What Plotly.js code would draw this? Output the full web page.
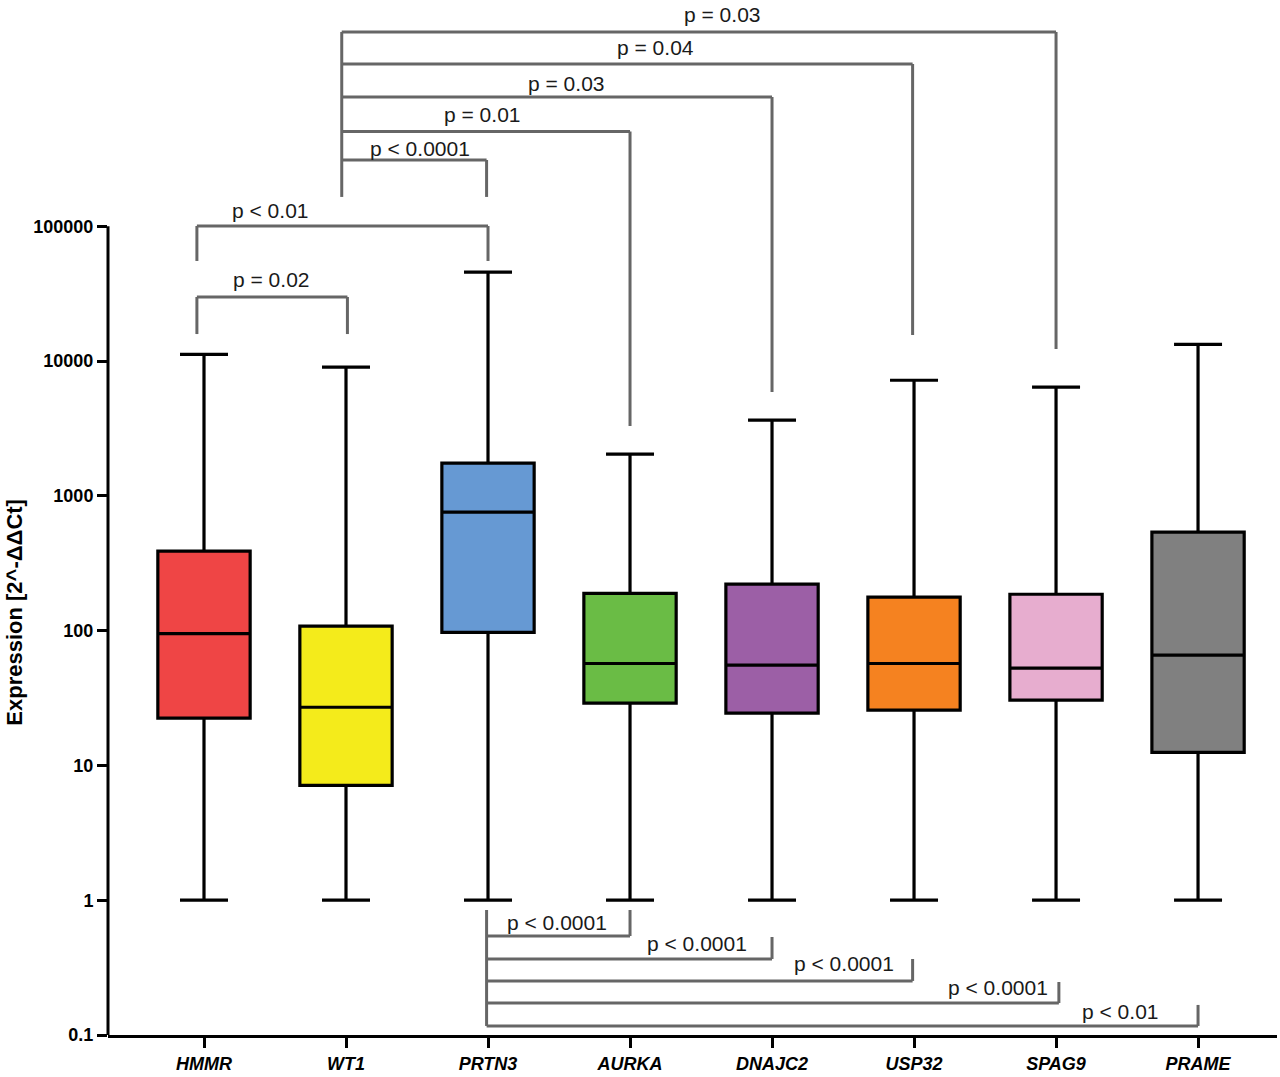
<!DOCTYPE html>
<html>
<head>
<meta charset="utf-8">
<script src="https://cdn.plot.ly/plotly-3.0.1.min.js"></script>
<style>html,body{margin:0;padding:0;background:#fff;}#chart{width:1280px;height:1077px;}</style>
</head>
<body>
<div id="chart"></div>
<script>
// ---- data ----
const genes = ["HMMR", "WT1", "PRTN3", "AURKA", "DNAJC2", "USP32", "SPAG9", "PRAME"];
const lowerWhisker = [1, 1, 1, 1, 1, 1, 1, 1];
const q1Values = [22.4, 7.1, 97, 29, 24.4, 25.7, 30.5, 12.5];
const medianValues = [95, 27, 756, 57, 55.4, 57, 52.6, 65.7];
const q3Values = [388, 108, 1745, 189, 221, 177, 186, 537];
const upperWhisker = [11200, 9000, 45600, 2036, 3640, 7200, 6400, 13300];
const boxColors = ["#EF4545", "#F4EB1B", "#6699D3", "#6ABC45", "#9C5FA6", "#F58220", "#E7ADCF", "#808080"];
const yTickVals = [0.1, 1, 10, 100, 1000, 10000, 100000];
const yTickText = ["0.1", "1", "10", "100", "1000", "10000", "100000"];
const yTitle = "Expression [2^-ΔΔCt]";

// significance brackets: positions in category index / log10(value)
const bracketLabels = ["p = 0.03", "p = 0.04", "p = 0.03", "p = 0.01", "p < 0.0001", "p < 0.01", "p = 0.02",
                       "p < 0.0001", "p < 0.0001", "p < 0.0001", "p < 0.0001", "p < 0.01"];
const bracketX1 = [0.97, 0.97, 0.97, 0.97, 0.97, -0.05, -0.05, 1.99, 1.99, 1.99, 1.99, 1.99];
const bracketX2 = [6.0, 4.99, 4.0, 3.0, 1.99, 2.0, 1.01, 3.0, 4.0, 4.99, 6.02, 7.0];
const bracketLevel = [6.441, 6.203, 5.959, 5.703, 5.491, 5.0015, 4.475, -0.2656, -0.436, -0.599, -0.763, -0.933];
const bracketLeftEnd = [null, null, null, null, null, 4.742, 4.200, null, null, null, null, null];
const bracketRightEnd = [4.089, 4.193, 3.770, 3.518, 5.217, 4.742, 4.200, -0.0727, -0.273, -0.436, -0.607, -0.777];
const labelX = [3.648, 3.176, 2.549, 1.958, 1.521, 0.465, 0.472, 2.486, 3.472, 4.507, 5.592, 6.451];
const labelY = [6.567, 6.322, 6.062, 5.825, 5.580, 5.120, 4.601, -0.169, -0.318, -0.466, -0.651, -0.822];
// shared vertical stems
const stemX = [0.97, 1.99];
const stemTop = [6.441, -0.0727];
const stemBottom = [5.217, -0.933];

const FONT = "Liberation Sans, Arial, Helvetica, sans-serif";
const GRAY = "#666666";

const traces = genes.map((g, i) => ({
  type: "box",
  name: g,
  x: [g],
  q1: [q1Values[i]],
  median: [medianValues[i]],
  q3: [q3Values[i]],
  lowerfence: [lowerWhisker[i]],
  upperfence: [upperWhisker[i]],
  fillcolor: boxColors[i],
  line: {color: "#000000", width: 3.2},
  width: 0.65,
  whiskerwidth: 0.52,
  boxpoints: false,
  hoverinfo: "skip",
  showlegend: false
}));

const shapes = [];
function seg(x0, y0, x1, y1) {
  shapes.push({type: "line", xref: "x", yref: "y", x0: x0, x1: x1,
    y0: Math.pow(10, y0), y1: Math.pow(10, y1), line: {color: GRAY, width: 3}});
}
for (let i = 0; i < bracketLabels.length; i++) {
  seg(bracketX1[i], bracketLevel[i], bracketX2[i], bracketLevel[i]);
  if (bracketLeftEnd[i] !== null) seg(bracketX1[i], bracketLevel[i], bracketX1[i], bracketLeftEnd[i]);
  seg(bracketX2[i], bracketLevel[i], bracketX2[i], bracketRightEnd[i]);
}
for (let i = 0; i < stemX.length; i++) seg(stemX[i], stemTop[i], stemX[i], stemBottom[i]);
// y axis line only across the labelled decades
shapes.push({type: "line", xref: "paper", yref: "y", x0: 0, x1: 0,
  y0: yTickVals[0], y1: yTickVals[yTickVals.length - 1], line: {color: "#000", width: 3}});

const annotations = bracketLabels.map((t, i) => ({
  text: t, xref: "x", yref: "y", x: labelX[i], y: labelY[i],
  showarrow: false, xanchor: "center", yanchor: "middle",
  font: {family: FONT, size: 21, color: "#1a1a1a"}
}));
// y-axis title, centred on the labelled part of the axis
annotations.push({
  text: "<b>" + yTitle + "</b>", xref: "paper", yref: "y",
  x: -0.0796, y: 2.14, textangle: -90, showarrow: false,
  xanchor: "center", yanchor: "middle",
  font: {family: FONT, size: 22, color: "#000"}
});

const layout = {
  width: 1280, height: 1077,
  margin: {l: 108, r: 3, t: 0, b: 42},
  paper_bgcolor: "#ffffff", plot_bgcolor: "#ffffff",
  showlegend: false,
  boxmode: "overlay",
  xaxis: {
    type: "category",
    range: [-0.676, 7.556],
    showgrid: false, zeroline: false,
    showline: true, linecolor: "#000", linewidth: 3,
    ticks: "outside", ticklen: 10, tickwidth: 3, tickcolor: "#000",
    tickfont: {family: FONT, size: 18, color: "#000", weight: "bold", style: "italic"},
    fixedrange: true
  },
  yaxis: {
    type: "log",
    range: [-1, 6.678],
    showgrid: false, zeroline: false, showline: false,
    tickvals: yTickVals, ticktext: yTickText,
    ticks: "outside", ticklen: 10, tickwidth: 3, tickcolor: "#000",
    tickfont: {family: FONT, size: 18, color: "#000", weight: "bold"},
    automargin: false,
    fixedrange: true
  },
  shapes: shapes,
  annotations: annotations
};

Plotly.newPlot("chart", traces, layout, {displayModeBar: false, staticPlot: true});
</script>
</body>
</html>
